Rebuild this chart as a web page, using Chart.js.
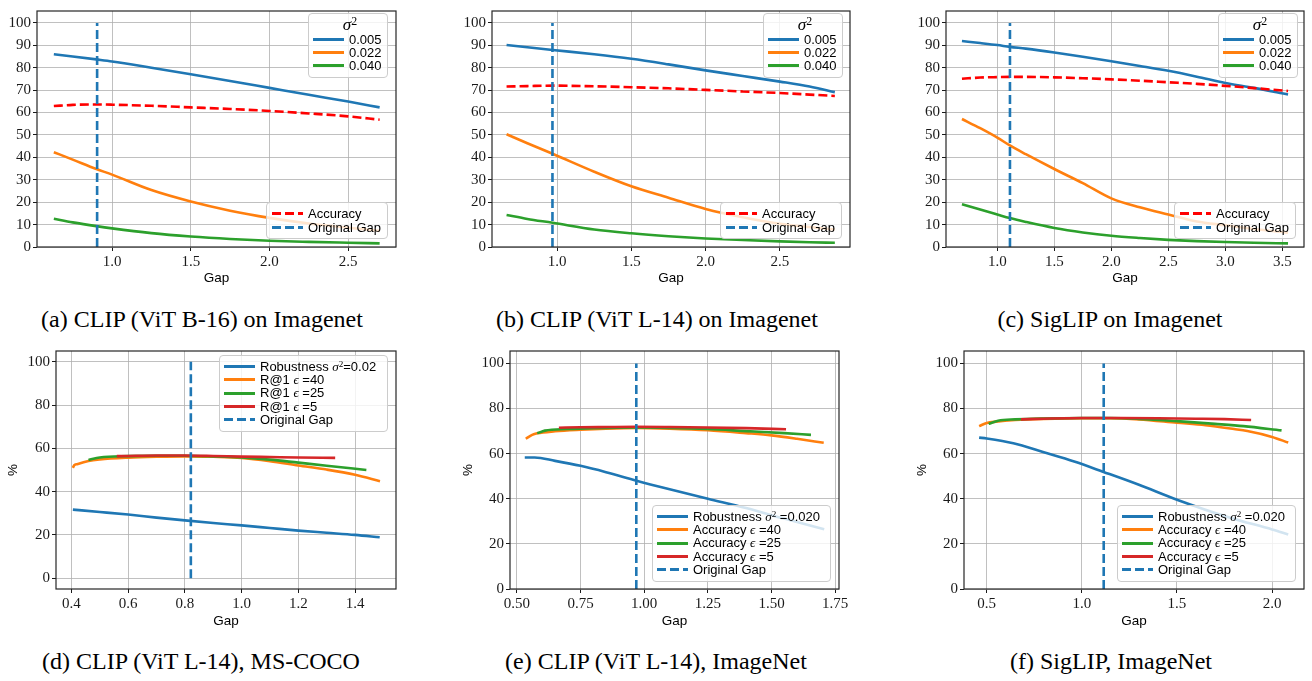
<!DOCTYPE html>
<html><head><meta charset="utf-8">
<script src="https://cdn.jsdelivr.net/npm/chart.js@4.4.1/dist/chart.umd.min.js"></script>
<style>
html,body{margin:0;padding:0;background:#fff}
body{position:relative;width:1312px;height:681px;overflow:hidden}
.leg{position:absolute;box-sizing:border-box;background:rgba(255,255,255,0.8);border:1px solid #cccccc;border-radius:4px;font-family:"Liberation Sans",sans-serif;font-size:13px;color:#000}
.lt{text-align:center;font-family:"Liberation Serif",serif;font-size:17px;font-style:italic}
.lr{display:flex;align-items:center;white-space:nowrap}
.ls{display:inline-block;width:31px;height:3px;margin-right:5px;flex:none}
.m{font-family:"Liberation Serif",serif;font-style:italic}
.sup{font-size:0.7em;position:relative;top:-0.45em;font-style:normal;font-family:"Liberation Serif",serif}
.cap{position:absolute;width:440px;text-align:center;font-family:"Liberation Serif",serif;font-size:24px;line-height:26px;color:#000;white-space:nowrap}
.warm{position:absolute;left:-999px;top:0;font-family:"Liberation Serif",serif;font-size:15px}
</style>
</head><body>
<div class="warm">0123456789.</div>
<script>
// ================= DATA =================
// (a) CLIP (ViT B-16) on Imagenet
const aGap    = [0.63, 0.75, 0.9, 1.0, 1.25, 1.5, 1.75, 2.0, 2.25, 2.5, 2.7];
const aRob005 = [86.0, 85.0, 83.7, 82.8, 80.0, 77.1, 74.1, 71.0, 67.9, 64.9, 62.3];
const aRob022 = [42.3, 39.0, 34.8, 32.3, 25.4, 20.3, 16.2, 13.0, 10.5, 8.6, 7.2];
const aRob040 = [12.6, 11.0, 9.3, 8.3, 6.2, 4.7, 3.6, 2.8, 2.3, 1.9, 1.6];
const aAcc    = [62.9, 63.4, 63.6, 63.5, 63.0, 62.3, 61.6, 60.7, 59.6, 58.3, 56.8];
const aOrigGap = 0.905;

// (b) CLIP (ViT L-14) on Imagenet
const bGap    = [0.66, 0.8, 0.97, 1.25, 1.5, 1.75, 2.0, 2.25, 2.5, 2.7, 2.87];
const bRob005 = [90.1, 89.1, 87.9, 86.0, 84.0, 81.5, 78.8, 76.3, 73.8, 71.6, 69.1];
const bRob022 = [50.3, 46.3, 41.6, 33.6, 27.1, 22.0, 17.0, 13.3, 10.4, 8.9, 7.8];
const bRob040 = [14.3, 12.5, 10.8, 7.8, 6.1, 4.8, 3.8, 3.1, 2.5, 2.1, 1.9];
const bAcc    = [71.6, 71.8, 72.0, 71.7, 71.3, 70.8, 70.1, 69.4, 68.7, 68.0, 67.4];
const bOrigGap = 0.969;

// (c) SigLIP on Imagenet
const cGap    = [0.69, 0.85, 1.0, 1.11, 1.25, 1.5, 1.75, 2.0, 2.25, 2.5, 2.75, 3.0, 3.25, 3.55];
const cRob005 = [91.9, 91.0, 90.1, 89.3, 88.5, 86.8, 84.9, 82.9, 80.8, 78.6, 76.0, 73.2, 71.0, 68.0];
const cRob022 = [57.1, 53.0, 48.8, 45.3, 41.4, 34.8, 28.5, 21.7, 17.7, 14.5, 11.4, 9.7, 8.0, 6.4];
const cRob040 = [19.1, 16.7, 14.5, 12.9, 11.2, 8.5, 6.5, 5.0, 4.0, 3.2, 2.6, 2.2, 1.9, 1.6];
const cAcc    = [75.1, 75.6, 75.8, 75.9, 75.9, 75.7, 75.3, 74.8, 74.2, 73.5, 72.8, 71.9, 70.9, 69.6];
const cOrigGap = 1.111;

// (d) CLIP (ViT L-14), MS-COCO
const dRobGap = [0.405, 0.5, 0.6, 0.7, 0.8, 0.9, 1.0, 1.1, 1.2, 1.3, 1.4, 1.487];
const dRob    = [31.7, 30.6, 29.4, 28.0, 26.7, 25.5, 24.4, 23.2, 22.0, 21.0, 20.0, 18.9];
const dE40Gap = [0.405, 0.41, 0.42, 0.46, 0.5, 0.6, 0.7, 0.8, 0.9, 1.0, 1.1, 1.2, 1.3, 1.4, 1.488];
const dE40    = [51.0, 52.2, 52.7, 54.2, 54.9, 55.7, 56.1, 56.3, 56.1, 55.6, 54.1, 52.1, 50.2, 47.8, 44.8];
const dE25Gap = [0.46, 0.5, 0.6, 0.7, 0.8, 0.9, 1.0, 1.1, 1.2, 1.3, 1.44];
const dE25    = [54.6, 55.8, 56.4, 56.6, 56.6, 56.3, 55.8, 54.8, 53.4, 52.0, 50.0];
const dE5Gap  = [0.56, 0.6, 0.7, 0.8, 0.9, 1.0, 1.1, 1.2, 1.33];
const dE5     = [56.4, 56.5, 56.7, 56.7, 56.5, 56.2, 56.0, 55.8, 55.6];
const dOrigGap = 0.821;

// (e) CLIP (ViT L-14), ImageNet
const eRobGap = [0.531, 0.57, 0.65, 0.75, 0.85, 0.97, 1.1, 1.25, 1.4, 1.55, 1.707];
const eRob    = [58.3, 58.3, 56.8, 54.6, 51.8, 48.0, 44.2, 40.0, 35.9, 31.2, 26.5];
const eE40Gap = [0.535, 0.56, 0.58, 0.65, 0.75, 0.85, 0.97, 1.1, 1.25, 1.4, 1.5, 1.6, 1.705];
const eE40    = [66.6, 68.3, 69.0, 69.9, 70.6, 71.1, 71.4, 71.1, 70.4, 69.1, 68.1, 66.6, 64.8];
const eE25Gap = [0.58, 0.61, 0.7, 0.8, 0.97, 1.1, 1.25, 1.4, 1.55, 1.655];
const eE25    = [69.0, 70.2, 70.9, 71.3, 71.6, 71.4, 70.9, 70.0, 69.1, 68.3];
const eE5Gap  = [0.665, 0.75, 0.85, 0.97, 1.1, 1.25, 1.4, 1.557];
const eE5     = [71.5, 71.7, 71.8, 71.9, 71.8, 71.6, 71.3, 70.8];
const eOrigGap = 0.969;

// (f) SigLIP, ImageNet
const fRobGap = [0.46, 0.5, 0.64, 0.8, 0.96, 1.114, 1.3, 1.5, 1.78, 2.0, 2.085];
const fRob    = [67.1, 66.7, 64.6, 60.6, 56.5, 51.9, 46.2, 39.6, 31.6, 26.4, 24.2];
const fE40Gap = [0.46, 0.5, 0.55, 0.65, 0.8, 1.0, 1.15, 1.3, 1.5, 1.65, 1.8, 1.87, 2.0, 2.085];
const fE40    = [72.2, 73.6, 74.2, 74.9, 75.4, 75.7, 75.7, 75.2, 73.7, 72.6, 70.9, 70.0, 67.4, 64.9];
const fE25Gap = [0.51, 0.56, 0.65, 0.8, 1.0, 1.15, 1.3, 1.5, 1.7, 1.85, 2.05];
const fE25    = [73.2, 74.6, 75.2, 75.6, 75.8, 75.8, 75.4, 74.4, 73.2, 72.2, 70.3];
const fE5Gap  = [0.68, 0.8, 1.0, 1.2, 1.4, 1.6, 1.75, 1.89];
const fE5     = [75.2, 75.5, 75.8, 75.8, 75.7, 75.5, 75.3, 74.9];
const fOrigGap = 1.115;

const vlineSpan = [0, 100];

// tick values and labels
const yTicksTop     = [0, 10, 20, 30, 40, 50, 60, 70, 80, 90, 100];
const yLabelsTop    = ['0','10','20','30','40','50','60','70','80','90','100'];
const yTicksBottom  = [0, 20, 40, 60, 80, 100];
const yLabelsBottom = ['0','20','40','60','80','100'];
const abXTicks  = [1.0, 1.5, 2.0, 2.5];
const abXLabels = ['1.0','1.5','2.0','2.5'];
const cXTicks   = [1.0, 1.5, 2.0, 2.5, 3.0, 3.5];
const cXLabels  = ['1.0','1.5','2.0','2.5','3.0','3.5'];
const dXTicks   = [0.4, 0.6, 0.8, 1.0, 1.2, 1.4];
const dXLabels  = ['0.4','0.6','0.8','1.0','1.2','1.4'];
const eXTicks   = [0.5, 0.75, 1.0, 1.25, 1.5, 1.75];
const eXLabels  = ['0.50','0.75','1.00','1.25','1.50','1.75'];
const fXTicks   = [0.5, 1.0, 1.5, 2.0];
const fXLabels  = ['0.5','1.0','1.5','2.0'];

// text
const sigmaLabels = ['0.005', '0.022', '0.040'];
const captions = ['(a) CLIP (ViT B-16) on Imagenet', '(b) CLIP (ViT L-14) on Imagenet', '(c) SigLIP on Imagenet',
                  '(d) CLIP (ViT L-14), MS-COCO', '(e) CLIP (ViT L-14), ImageNet', '(f) SigLIP, ImageNet'];

// ================= STYLE / DRAWING =================
const BLUE = '#1f77b4', ORANGE = '#ff7f0e', GREEN = '#2ca02c', RED = '#d62728', ACC = '#ff0000';
const GRID = '#b0b0b0', INK = '#1a1a1a';
const SERIF = '"Liberation Serif", serif', SANS = '"Liberation Sans", sans-serif';
const LW = 2.6, DASH = [9, 4];
const charts = [];

function caption(text, cx, top) {
  const c = document.createElement('div');
  c.className = 'cap'; c.textContent = text;
  c.style.left = (cx - 220) + 'px'; c.style.top = top + 'px';
  document.body.appendChild(c);
}
caption(captions[0], 202, 306);
caption(captions[1], 657, 306);
caption(captions[2], 1110, 306);
caption(captions[3], 201, 648);
caption(captions[4], 656, 648);
caption(captions[5], 1111, 648);

const spinePlugin = {
  id: 'spines',
  afterDraw(chart) {
    const {ctx, chartArea: a} = chart;
    ctx.save();
    ctx.strokeStyle = '#262626';
    ctx.lineWidth = 1.2;
    ctx.strokeRect(a.left, a.top, a.right - a.left, a.bottom - a.top);
    ctx.restore();
  }
};

function makePanel(p) {
  const cv = document.createElement('canvas');
  cv.width = p.cw; cv.height = p.ch;
  cv.style.cssText = `position:absolute;left:${p.cx}px;top:${p.cy}px;width:${p.cw}px;height:${p.ch}px`;
  document.body.appendChild(cv);
  // the first dataset is drawn on top in Chart.js, so list the top-most first
  const datasets = [{
    data: [{x: p.gap, y: vlineSpan[0]}, {x: p.gap, y: vlineSpan[1]}],
    borderColor: BLUE, borderWidth: LW, borderDash: DASH, pointRadius: 0, borderCapStyle: 'butt'
  }];
  p.series.slice().reverse().forEach(s => datasets.push({
    data: s.x.map((x, i) => ({x, y: s.y[i]})),
    borderColor: s.color, borderWidth: LW, borderDash: s.dash ? DASH : [],
    pointRadius: 0, fill: false, cubicInterpolationMode: 'monotone', borderCapStyle: 'butt'
  }));
  charts.push(new Chart(cv, {
    type: 'line',
    data: {datasets},
    options: {
      responsive: false, animation: false, devicePixelRatio: 1,
      layout: {padding: {top: p.padTop, right: p.padRight, left: 0, bottom: 0}},
      plugins: {legend: {display: false}, tooltip: {enabled: false}},
      scales: {
        x: {
          type: 'linear', min: p.xmin, max: p.xmax,
          afterBuildTicks: s => { s.ticks = p.xt.map(v => ({value: v})); },
          afterFit: s => { s.height = p.xh; },
          ticks: {callback: (v, i) => p.xl[i], font: {family: SERIF, size: 15}, color: INK, padding: 2, maxRotation: 0, autoSkip: false},
          grid: {color: GRID, lineWidth: 0.8, tickLength: 4, tickColor: INK, tickWidth: 1},
          border: {display: false},
          title: {display: true, text: 'Gap', font: {family: SANS, size: 13.5}, color: '#000', padding: {top: 0, bottom: p.gapPad}}
        },
        y: {
          type: 'linear', min: p.ymin, max: p.ymax,
          afterBuildTicks: s => { s.ticks = p.yt.map(v => ({value: v})); },
          afterFit: s => { s.width = p.yw; },
          ticks: {callback: (v, i) => p.yl[i], font: {family: SERIF, size: 15}, color: INK, padding: 2, autoSkip: false},
          grid: {color: GRID, lineWidth: 0.8, tickLength: 4, tickColor: INK, tickWidth: 1},
          border: {display: false},
          title: p.ytitle ? {display: true, text: '%', font: {family: SANS, size: 13.5}, color: '#000', padding: {top: p.yTitlePad, bottom: 0}} : {display: false}
        }
      }
    },
    plugins: [spinePlugin]
  }));
}

function legend(L) {
  const d = document.createElement('div');
  d.className = 'leg';
  d.style.left = L.x + 'px'; d.style.top = L.y + 'px';
  d.style.width = L.w + 'px'; d.style.height = L.h + 'px';
  d.style.paddingTop = L.pt + 'px'; d.style.paddingLeft = L.pl + 'px';
  if (L.title) {
    const t = document.createElement('div');
    t.className = 'lt'; t.innerHTML = L.title;
    t.style.height = L.th + 'px'; t.style.lineHeight = L.th + 'px';
    d.appendChild(t);
  }
  L.items.forEach(it => {
    const r = document.createElement('div');
    r.className = 'lr'; r.style.height = L.rh + 'px';
    const s = document.createElement('span');
    s.className = 'ls';
    s.style.background = it.dash ? `repeating-linear-gradient(to right, ${it.color} 0 9px, transparent 9px 13px)` : it.color;
    const tx = document.createElement('span');
    tx.innerHTML = it.label;
    r.append(s, tx);
    d.appendChild(r);
  });
  document.body.appendChild(d);
}

// ---- top row ----
const topCommon = {cy: 0, ch: 290, padTop: 5, xh: 43, ymin: 0, ymax: 105.3, yt: yTicksTop, yl: yLabelsTop, gapPad: 4};
const sigSeries = (g, r1, r2, r3, acc) => [
  {x: g, y: r1, color: BLUE}, {x: g, y: r2, color: ORANGE}, {x: g, y: r3, color: GREEN},
  {x: g, y: acc, color: ACC, dash: true}
];
makePanel(Object.assign({}, topCommon, {cx: 0, cw: 440, yw: 37, padRight: 44, xmin: 0.523, xmax: 2.804,
  xt: abXTicks, xl: abXLabels, gap: aOrigGap, series: sigSeries(aGap, aRob005, aRob022, aRob040, aAcc)}));
makePanel(Object.assign({}, topCommon, {cx: 440, cw: 440, yw: 52, padRight: 30, xmin: 0.562, xmax: 2.972,
  xt: abXTicks, xl: abXLabels, gap: bOrigGap, series: sigSeries(bGap, bRob005, bRob022, bRob040, bAcc)}));
makePanel(Object.assign({}, topCommon, {cx: 880, cw: 432, yw: 66, padRight: 8, xmin: 0.55, xmax: 3.69,
  xt: cXTicks, xl: cXLabels, gap: cOrigGap, series: sigSeries(cGap, cRob005, cRob022, cRob040, cAcc)}));

// ---- bottom row ----
const botCommon = {cy: 340, ch: 290, padTop: 7, xh: 41, yt: yTicksBottom, yl: yLabelsBottom, gapPad: 1, ytitle: true};
const epsSeries = (rg, r, g40, e40, g25, e25, g5, e5) => [
  {x: rg, y: r, color: BLUE}, {x: g40, y: e40, color: ORANGE}, {x: g25, y: e25, color: GREEN}, {x: g5, y: e5, color: RED}
];
makePanel(Object.assign({}, botCommon, {cx: 0, cw: 440, yw: 56, padRight: 44, xmin: 0.3455, xmax: 1.5445, ymin: -5, ymax: 105,
  yTitlePad: 5, xt: dXTicks, xl: dXLabels, gap: dOrigGap,
  series: epsSeries(dRobGap, dRob, dE40Gap, dE40, dE25Gap, dE25, dE5Gap, dE5)}));
makePanel(Object.assign({}, botCommon, {cx: 440, cw: 440, yw: 70, padRight: 41, xmin: 0.473, xmax: 1.765, ymin: 0, ymax: 105.5,
  yTitlePad: 20, xt: eXTicks, xl: eXLabels, gap: eOrigGap,
  series: epsSeries(eRobGap, eRob, eE40Gap, eE40, eE25Gap, eE25, eE5Gap, eE5)}));
makePanel(Object.assign({}, botCommon, {cx: 880, cw: 432, yw: 84, padRight: 8, xmin: 0.3805, xmax: 2.168, ymin: 0, ymax: 105.5,
  yTitlePad: 34, xt: fXTicks, xl: fXLabels, gap: fOrigGap,
  series: epsSeries(fRobGap, fRob, fE40Gap, fE40, fE25Gap, fE25, fE5Gap, fE5)}));

// ---- legends ----
const sig2 = '<span class="m">σ</span><span class="sup">2</span>';
const eps = '<span class="m">ϵ</span>';
const sigItems = [
  {label: sigmaLabels[0], color: BLUE}, {label: sigmaLabels[1], color: ORANGE}, {label: sigmaLabels[2], color: GREEN}
];
const accItems = [{label: 'Accuracy', color: ACC, dash: true}, {label: 'Original Gap', color: BLUE, dash: true}];
[308, 763, 1218].forEach(x => legend({x, y: 13, w: 80, h: 65, pt: 2, pl: 4, title: sig2, th: 17, rh: 13, items: sigItems}));
[266, 720, 1174].forEach(x => legend({x, y: 202, w: 122, h: 37, pt: 4, pl: 5, rh: 13.5, items: accItems}));

legend({x: 219, y: 355, w: 169, h: 77, pt: 4, pl: 4, rh: 13.3, items: [
  {label: 'Robustness ' + sig2 + '=0.02', color: BLUE},
  {label: 'R@1 ' + eps + ' =40', color: ORANGE},
  {label: 'R@1 ' + eps + ' =25', color: GREEN},
  {label: 'R@1 ' + eps + ' =5', color: RED},
  {label: 'Original Gap', color: BLUE, dash: true}]});
const accEpsItems = [
  {label: 'Robustness ' + sig2 + ' =0.020', color: BLUE},
  {label: 'Accuracy ' + eps + ' =40', color: ORANGE},
  {label: 'Accuracy ' + eps + ' =25', color: GREEN},
  {label: 'Accuracy ' + eps + ' =5', color: RED},
  {label: 'Original Gap', color: BLUE, dash: true}];
legend({x: 652, y: 505, w: 179, h: 77, pt: 4, pl: 4, rh: 13.3, items: accEpsItems});
legend({x: 1117, y: 505, w: 179, h: 77, pt: 4, pl: 4, rh: 13.3, items: accEpsItems});

// redraw once the system fonts are surely resolved
if (document.fonts && document.fonts.load) {
  Promise.all([document.fonts.load('15px "Liberation Serif"'), document.fonts.load('13.5px "Liberation Sans"')])
    .then(() => charts.forEach(c => c.update('none'))).catch(() => {});
}
</script>
</body></html>
